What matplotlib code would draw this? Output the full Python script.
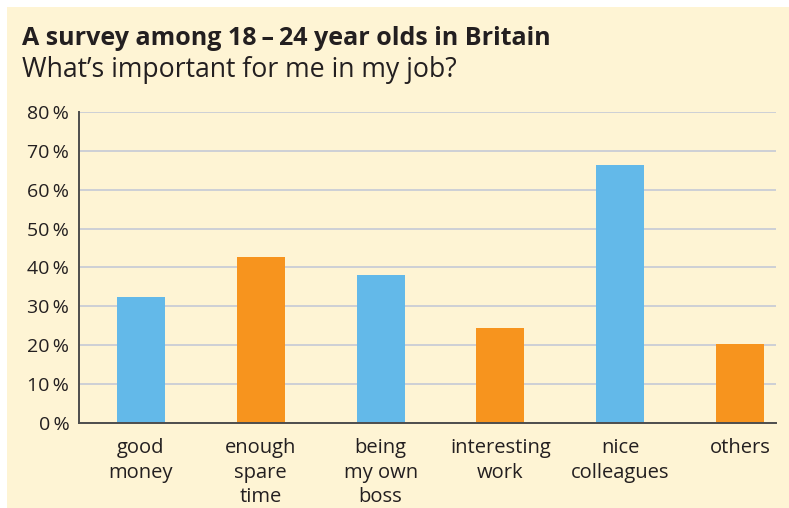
import matplotlib
matplotlib.use("Agg")
import matplotlib.pyplot as plt
from matplotlib.patches import Rectangle

# data
categories = ["good\nmoney", "enough\nspare\ntime", "being\nmy own\nboss",
              "interesting\nwork", "nice\ncolleagues", "others"]
shares = [32.4, 42.7, 38.0, 24.4, 66.3, 20.3]
bar_colours = ["#63B9E9", "#F7941E", "#63B9E9", "#F7941E", "#63B9E9", "#F7941E"]
y_ticks = [0, 10, 20, 30, 40, 50, 60, 70, 80]

title = "A survey among 18\u2009\u2013\u200924 year olds in Britain"
subtitle = "What\u2019s important for me in my job?"

BG = "#FEF4D4"
TEXT = "#231F20"

plt.rcParams["font.family"] = ["Open Sans", "DejaVu Sans"]

fig = plt.figure(figsize=(7.89, 5.08), dpi=100)
fig.patch.set_facecolor("white")
# cream panel, white strip only on top and left
fig.patches.append(Rectangle((7 / 789, -0.1), 1.1, 1.1 - 7 / 508, transform=fig.transFigure,
                             facecolor=BG, edgecolor="none", zorder=-1))

ax = fig.add_axes([79 / 789, 1 - 423 / 508, (776 - 79) / 789, (423 - 112) / 508])
ax.set_facecolor("none")

x = list(range(len(categories)))
ax.bar(x, shares, width=0.4, color=bar_colours, zorder=2)

ax.set_xlim(-0.517, 5.3)
ax.set_ylim(0, 80)
ax.set_yticks(y_ticks)
ax.set_yticklabels([f"{v}\u2009%" for v in y_ticks])
ax.set_xticks(x)
ax.set_xticklabels(categories, linespacing=1.3)

ax.yaxis.grid(True, color="#CDD0D6", linewidth=1.4)
ax.set_axisbelow(True)
ax.tick_params(axis="both", length=0, colors=TEXT)
ax.tick_params(axis="y", pad=7, labelsize=14)
ax.tick_params(axis="x", pad=11, labelsize=14.5)

for s in ["top", "right"]:
    ax.spines[s].set_visible(False)
for s in ["left", "bottom"]:
    ax.spines[s].set_color("#4D4D4D")
    ax.spines[s].set_linewidth(1.4)
    ax.spines[s].set_zorder(3)

fig.text(22 / 789, 1 - 45 / 508, title, fontsize=18, fontweight="bold",
         color=TEXT, va="baseline", ha="left")
fig.text(22 / 789, 1 - 77 / 508, subtitle, fontsize=19.2, color=TEXT,
         va="baseline", ha="left")

fig.savefig("out.png", dpi=100, facecolor=fig.get_facecolor())
